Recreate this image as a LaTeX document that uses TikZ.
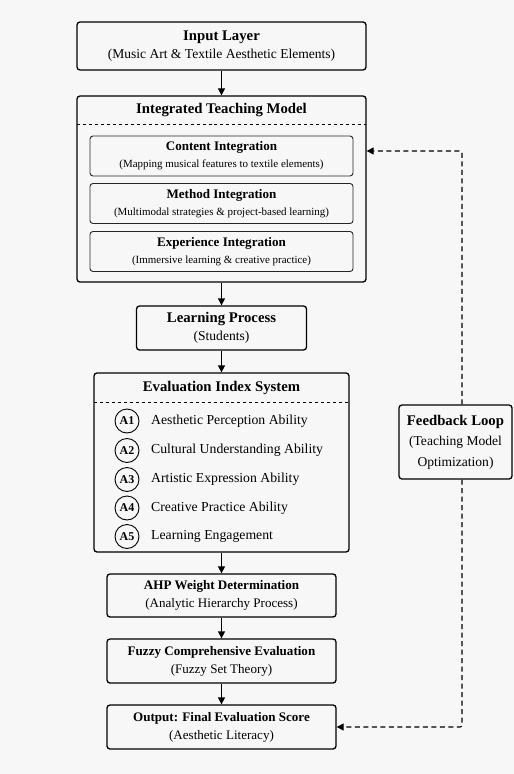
\documentclass[tikz,border=0pt]{standalone}
\usepackage{fontspec}
\setmainfont{Liberation Serif}
\usepackage{tikz}
\usetikzlibrary{arrows.meta, positioning, calc}
\definecolor{pagegray}{RGB}{247,247,247}
\newcommand{\hdtxt}[1]{{\fontsize{14.8}{18}\selectfont\bfseries #1}}
\newcommand{\subtxt}[1]{{\fontsize{13.6}{18}\selectfont #1}}
\newcommand{\lowsubtxt}[1]{{\fontsize{13.1}{18}\selectfont #1}}
\newcommand{\shdtxt}[1]{{\fontsize{13.1}{17}\selectfont\bfseries #1}}
\newcommand{\ssubtxt}[1]{{\fontsize{11}{17}\selectfont #1}}
\tikzset{
    stagebox/.style={
        rectangle,
        rounded corners=3bp,
        draw=black,
        line width=1.3bp,
        minimum width=#1,
        align=center,
        inner sep=0pt,
        font=\fontsize{13.6}{18}\selectfont
    },
    subbox/.style={
        rectangle,
        rounded corners=3bp,
        draw=black!85,
        line width=0.9bp,
        minimum width=263bp,
        minimum height=40bp,
        align=center,
        inner sep=0pt,
        font=\fontsize{11}{17}\selectfont
    },
    flowarrow/.style={
        -{Triangle[length=7bp,width=7bp]},
        line width=1.3bp
    },
    fbarrow/.style={
        -{Triangle[length=7bp,width=7bp]},
        line width=1.1bp,
        dash pattern=on 5bp off 3.5bp,
        rounded corners=2bp
    },
    itemcirc/.style={
        circle,
        draw=black,
        line width=0.9bp,
        minimum size=24bp,
        inner sep=0pt,
        font=\fontsize{12}{12}\selectfont\bfseries
    },
    itemtext/.style={
        anchor=west,
        inner sep=0pt,
        font=\fontsize{13.8}{15}\selectfont
    }
}
\begin{document}
\begin{tikzpicture}[x=1bp, y=-1bp]
    \useasboundingbox (0,0) rectangle (514,774);
    \fill[pagegray] (0,0) rectangle (514,774);

    % main column
    \node[stagebox=289bp, minimum height=48bp] (inp) at (221.5,46)
        {\hdtxt{Input Layer}\\\subtxt{(Music Art \& Textile Aesthetic Elements)}};
    \node[stagebox=289bp, minimum height=186bp] (itm) at (221.5,189) {};
    \node[inner sep=0pt] (itmtitle) at (221.5,110) {\hdtxt{Integrated Teaching Model}};
    \draw[dashed, line width=0.8bp] (77,124) -- (366,124);
    \node[subbox] (content) at (221.5,156)
        {\shdtxt{Content Integration}\\\ssubtxt{(Mapping musical features to textile elements)}};
    \node[subbox] (method) at (221.5,203.5)
        {\shdtxt{Method Integration}\\\ssubtxt{(Multimodal strategies \& project-based learning)}};
    \node[subbox] (exper) at (221.5,251.5)
        {\shdtxt{Experience Integration}\\\ssubtxt{(Immersive learning \& creative practice)}};

    \node[stagebox=170bp, minimum height=44bp] (learn) at (221.5,328)
        {\hdtxt{Learning Process}\\\subtxt{(Students)}};

    \node[stagebox=255bp, minimum height=179bp] (eval) at (221.5,462.5) {};
    \node[inner sep=0pt] (evaltitle) at (221.5,388) {\hdtxt{Evaluation Index System}};
    \draw[dashed, line width=0.8bp] (94,402) -- (349,402);
    \foreach \i/\y/\txt in {1/421/Aesthetic Perception Ability, 2/450.5/Cultural Understanding Ability,
        3/479.5/Artistic Expression Ability, 4/508/Creative Practice Ability, 5/536.5/Learning Engagement} {
        \node[itemcirc] (a\i) at (127,\y) {A\i};
        \node[itemtext] (t\i) at (151,\y) {\txt};
    }

    \node[stagebox=229bp, minimum height=43bp] (ahp) at (221.5,595.5)
        {\shdtxt{AHP Weight Determination}\\\lowsubtxt{(Analytic Hierarchy Process)}};
    \node[stagebox=229bp, minimum height=44bp] (fuzzy) at (221.5,661)
        {\shdtxt{Fuzzy Comprehensive Evaluation}\\\lowsubtxt{(Fuzzy Set Theory)}};
    \node[stagebox=229bp, minimum height=44bp] (out) at (221.5,727)
        {\shdtxt{Output: Final Evaluation Score}\\\lowsubtxt{(Aesthetic Literacy)}};

    % feedback side
    \node[stagebox=113bp, minimum height=74bp, font=\fontsize{13.6}{20.5}\selectfont] (fb) at (455.5,442)
        {\hdtxt{Feedback Loop}\\\subtxt{(Teaching Model}\\\subtxt{Optimization)}};

    \draw[flowarrow] (inp) -- (itm);
    \draw[flowarrow] (itm) -- (learn);
    \draw[flowarrow] (learn) -- (eval);
    \draw[flowarrow] (eval) -- (ahp);
    \draw[flowarrow] (ahp) -- (fuzzy);
    \draw[flowarrow] (fuzzy) -- (out);

    \draw[fbarrow] ([xshift=6.5bp]fb.north) |- ([yshift=5bp]itm.east |- content);
    \draw[fbarrow] ([xshift=6.5bp]fb.south) |- (out.east);
\end{tikzpicture}
\end{document}
